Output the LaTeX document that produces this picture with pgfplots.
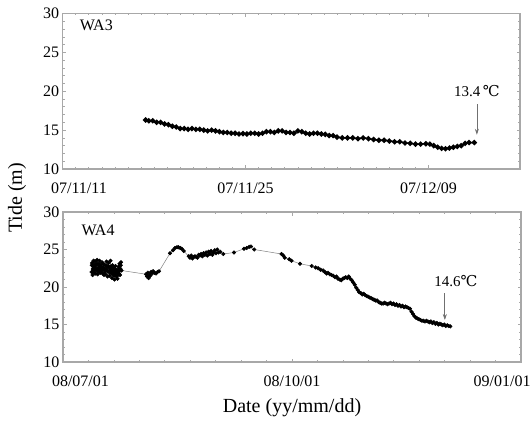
\documentclass[border=0pt]{standalone}
\usepackage{fontspec}
\setmainfont{Liberation Serif}
\newfontfamily\tickfont{Liberation Serif}
\newfontfamily\symfont{DejaVu Serif}
\usepackage{pgfplots}
\pgfplotsset{compat=1.18}
\usetikzlibrary{arrows.meta}
\definecolor{axisgray}{HTML}{A8A8A8}
\definecolor{arrowgray}{HTML}{707070}

\pgfplotsset{
  tidepanel/.style={
    scale only axis,
    anchor=south west,
    ymin=10, ymax=30,
    ytick={10,15,20,25,30},
    yticklabel={\pgfmathparse{int(\tick)}\pgfmathresult},
    minor y tick num=4,
    tick align=inside,
    major tick length=3.5pt,
    minor tick length=2pt,
    axis line style={draw=axisgray, line width=1.1pt},
    tick style={draw=axisgray, line width=0.6pt},
    tick label style={font=\tickfont\fontsize{16}{18}\selectfont, text=black},
    xticklabel style={yshift=-10pt},
    clip=false,
  },
}

\begin{document}
\begin{tikzpicture}[x=1pt,y=1pt]
\path[use as bounding box] (0,0) rectangle (531,424);

% ---- upper panel: WA3 (days since 07/11/11)
\begin{axis}[tidepanel,
  at={(62.6pt,255pt)}, width=457.4pt, height=155.5pt,
  xmin=0, xmax=35,
  xtick={0,14,28},
  xticklabel={\ifcase\ticknum\makebox[0pt][l]{\hspace{-11.5pt}07/11/11}\or 07/11/25\or 07/12/09\fi},
  minor x tick num=13,
]
\addplot[black, line width=1.6pt, mark=*, mark size=1.8pt] coordinates {
 (6.35,16.3) (6.6,16.2) (6.9,16.2) (7.2,16.0) (7.5,16.0) (7.8,15.8) (8.1,15.7)
 (8.4,15.5) (8.7,15.4) (9.0,15.2) (9.3,15.2) (9.6,15.1) (9.9,15.2) (10.2,15.1)
 (10.5,15.1) (10.8,15.0) (11.1,14.9) (11.4,15.0) (11.7,14.9) (12.0,14.8)
 (12.3,14.7) (12.6,14.7) (12.9,14.6) (13.2,14.6) (13.5,14.5) (13.8,14.55)
 (14.1,14.5) (14.4,14.6) (14.7,14.6) (15.0,14.5) (15.3,14.6) (15.6,14.8)
 (15.9,14.8) (16.2,14.7) (16.5,14.9) (16.8,14.9) (17.1,14.7) (17.4,14.7)
 (17.7,14.6) (18.0,14.9) (18.3,14.8) (18.6,14.6) (18.9,14.5) (19.2,14.6)
 (19.5,14.6) (19.8,14.5) (20.1,14.45) (20.4,14.3) (20.7,14.3) (21.0,14.1)
 (21.4,14.0) (21.8,14.0) (22.2,14.0) (22.6,13.9) (23.0,14.0) (23.4,13.9)
 (23.8,13.8) (24.2,13.7) (24.6,13.7) (25.0,13.6) (25.4,13.5) (25.8,13.5)
 (26.2,13.35) (26.6,13.3) (27.0,13.2) (27.4,13.2) (27.8,13.25) (28.1,13.2)
 (28.4,13.0) (28.7,12.8) (29.0,12.65) (29.3,12.6) (29.6,12.7) (29.9,12.8)
 (30.2,12.9) (30.5,13.0) (30.8,13.3) (31.1,13.4) (31.5,13.4)
};
\node[anchor=west, font=\fontsize{16}{18}\selectfont] at (rel axis cs:0.03,0.925) {WA3};
\node[font=\fontsize{15}{17}\selectfont] at (axis cs:31.7,20.0) {13.4\,{\symfont ℃}};
\draw[arrowgray, line width=0.7pt, -{Stealth[length=6pt,width=4pt]}]
  (axis cs:31.7,18.3) -- (axis cs:31.7,14.4);
\end{axis}

% ---- lower panel: WA4 (days since 08/07/01)
\begin{axis}[tidepanel,
  at={(63pt,62pt)}, width=458pt, height=150pt,
  xmin=0, xmax=184,
  xtick={0,92,184},
  xticklabel={\ifcase\ticknum\makebox[0pt][l]{\hspace{-11pt}08/07/01}\or 08/10/01\or\makebox[0pt][r]{09/01/01\hspace{-9.5pt}}\fi},
  minor x tick num=8,
]
\addplot[gray, line width=0.5pt, mark=*, mark size=1.8pt,
         mark options={black}] coordinates {
 (11.5,22.0) (11.6,22.9) (11.7,23.2) (11.9,21.6) (12.0,22.4) (12.1,22.8)
 (12.3,23.5) (12.4,22.2) (12.5,21.9) (12.7,22.6) (12.8,23.0) (12.9,23.4)
 (13.1,21.8) (13.2,22.3) (13.3,22.9) (13.5,22.3) (13.6,23.1) (13.7,23.6)
 (13.9,21.7) (14.0,22.2) (14.1,22.5) (14.3,23.1) (14.4,22.6) (14.5,22.0)
 (14.7,23.5) (14.8,22.9) (14.9,22.4) (15.1,21.9) (15.2,22.5) (15.3,23.0)
 (15.5,22.2) (15.6,22.7) (15.7,23.3) (15.9,21.8) (16.0,22.3) (16.1,22.6)
 (16.3,23.1) (16.4,22.4) (16.5,21.6) (16.7,22.4) (16.8,22.0) (16.9,22.9)
 (17.1,21.7) (17.2,22.2) (17.3,22.5) (17.5,23.4) (17.6,22.8) (17.7,22.2)
 (17.9,21.4) (18.0,22.1) (18.1,22.8) (18.3,23.2) (18.4,22.6) (18.5,22.0)
 (18.7,21.5) (18.8,22.2) (18.9,22.7) (19.1,23.5) (19.2,22.7) (19.3,21.9)
 (19.5,22.4) (19.6,21.8) (19.7,21.2) (19.9,22.9) (20.0,22.5) (20.1,22.1)
 (20.3,21.6) (20.4,22.1) (20.5,22.6) (20.7,21.0) (20.8,21.6) (20.9,22.2)
 (21.1,22.8) (21.2,22.3) (21.3,21.9) (21.5,21.4) (21.6,21.8) (21.7,22.3)
 (21.9,21.1) (22.0,21.6) (22.1,22.0) (22.3,22.7) (22.4,22.2) (22.5,21.8)
 (22.7,23.1) (22.8,22.3) (22.9,21.6) (23.1,22.4) (23.2,22.9) (23.3,23.3)
 (23.5,22.2)
 (33.4,21.7) (33.8,21.4) (34.1,21.9) (34.4,21.2) (34.7,21.6) (35.0,21.5)
 (35.4,22.0) (35.8,21.8) (36.2,22.1) (36.8,21.9) (37.4,21.8) (38.0,22.0)
 (38.6,22.1)
 (43.0,24.5) (44.2,24.9) (45.0,25.2) (45.8,25.3) (46.4,25.3) (47.1,25.2)
 (47.7,25.1) (48.5,24.8)
 (50.5,24.1) (51.0,23.9) (51.5,24.2) (52.0,23.8) (52.5,24.0) (53.0,24.1)
 (53.5,24.0) (54.0,23.9) (54.5,24.3) (55.0,24.2) (55.5,24.4) (56.0,24.1)
 (56.5,24.5) (57.0,24.3) (57.5,24.6) (58.0,24.2) (58.5,24.7) (59.0,24.4)
 (59.5,24.8) (60.0,24.3) (60.5,24.6) (61.0,24.9) (61.5,24.5) (62.0,25.0)
 (62.5,24.6) (63.2,24.7)
 (64.4,24.4) (68.7,24.6) (72.7,25.1) (73.8,25.2) (74.8,25.35) (75.5,25.4)
 (76.8,25.0)
 (87.8,24.4) (88.5,24.2) (89.1,23.9) (90.9,23.7) (91.8,23.5)
 (95.2,23.1) (99.9,22.8) (101.5,22.6) (102.5,22.5) (103.5,22.3) (104.5,22.2)
 (105.2,22.0) (105.9,21.8) (106.5,21.9) (107.2,21.7) (107.9,21.6) (108.6,21.5)
 (109.3,21.3) (109.9,21.4) (110.5,21.1) (111.2,21.0) (111.8,20.9) (112.4,21.1)
 (113.0,21.2) (113.6,21.3) (114.2,21.2) (114.8,21.4) (115.4,21.1) (116.0,20.9)
 (116.6,20.6) (117.2,20.3) (117.8,19.9) (118.4,19.6) (119.0,19.3) (119.6,19.2)
 (120.2,19.0) (120.8,19.1) (121.4,18.9) (122.0,18.8) (122.6,18.7) (123.2,18.6)
 (123.8,18.5) (124.4,18.4) (125.0,18.3) (125.6,18.2) (126.2,18.2) (126.8,18.0)
 (127.4,17.9) (128.0,17.8) (128.6,17.8) (129.2,17.9) (129.8,17.8) (130.4,17.7)
 (131.0,17.8) (131.6,17.9) (132.2,17.7) (132.8,17.8) (133.4,17.6) (134.0,17.7)
 (134.6,17.5) (135.2,17.6) (135.8,17.4) (136.4,17.5) (137.0,17.3) (137.6,17.4)
 (138.2,17.3) (138.8,17.2) (139.4,17.1) (140.0,16.7) (140.6,16.4) (141.2,16.1)
 (141.8,15.9) (142.4,15.8) (143.0,15.7) (143.6,15.6) (144.2,15.5) (144.8,15.5)
 (145.4,15.4) (146.0,15.5) (146.6,15.4) (147.2,15.3) (147.8,15.4) (148.4,15.2)
 (149.0,15.3) (149.6,15.1) (150.2,15.2) (150.8,15.0) (151.4,15.1) (152.0,15.0)
 (152.6,14.9) (153.2,15.0) (153.8,14.8) (154.4,14.9) (155.0,14.8) (155.6,14.75)
};
\node[anchor=west, font=\fontsize{16}{18}\selectfont] at (rel axis cs:0.033,0.877) {WA4};
\node[font=\fontsize{15}{17}\selectfont] at (axis cs:157.8,20.8) {14.6{\symfont ℃}};
\draw[arrowgray, line width=0.7pt, -{Stealth[length=6pt,width=4pt]}]
  (axis cs:153.4,19.2) -- (axis cs:153.4,15.6);
\end{axis}

\node[rotate=90, font=\fontsize{20}{22}\selectfont] at (17,226) {Tide (m)};
\node[font=\fontsize{20}{22}\selectfont] at (292,16) {Date (yy/mm/dd)};
\end{tikzpicture}
\end{document}
